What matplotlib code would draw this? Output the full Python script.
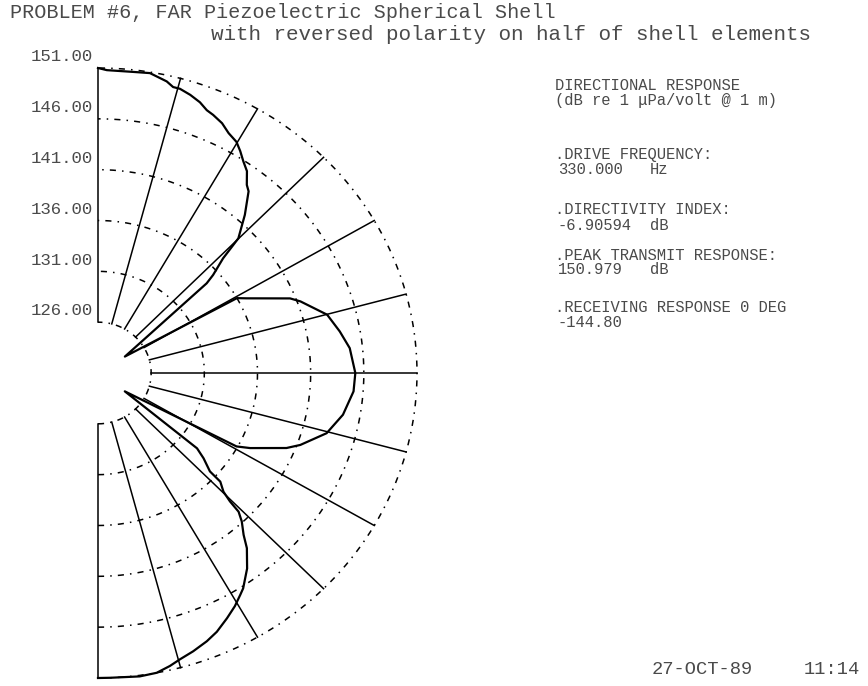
import numpy as np
import matplotlib
matplotlib.use('Agg')
import matplotlib.pyplot as plt

plt.rcParams['font.family'] = 'Liberation Mono'

W, H = 868, 686
TXT = '#4a4a4a'

# directional response: angle (deg, 0 = axis) and level (dB)
angles = [90, 88.4, 83.6, 80.6, 77.3, 75.9, 74.6, 72.4, 70.2, 68.4, 66.9, 64.6,
          62.5, 60.2, 58.5, 56.7, 54.8, 52.9, 51.6, 48.4, 45.1, 43.8, 41.7, 40.8,
          32.6, 29.4, 27.7, 22.1, 20.3, 14.9, 10.2, 5.9, 0,
          -4.3, -10.1, -15.4, -20.4, -22.6, -27.3, -29.0, -35.6,
          -38.5, -40.2, -42.6, -42.9, -44.7, -45.5, -45.9, -47.2, -49.3, -50.9,
          -53.9, -57.2, -58.5, -60.7, -63.3, -66.3, -68.8, -71.9, -74.7, -76.8,
          -79.4, -82.5, -87.8, -90]
levels = [151.0, 150.8, 150.8, 150.9, 150.4, 150.0, 150.0, 149.7, 149.3, 148.8, 148.6, 148.2,
          147.6, 147.2, 146.6, 145.9, 145.3, 144.2, 143.8, 141.8, 139.7, 137.3, 135.5, 134.5,
          124.0, 136.0, 136.8, 140.5, 141.3, 143.3, 144.1, 144.8, 145.2,
          145.1, 144.4, 143.3, 141.3, 140.2, 137.1, 135.9, 124.1,
          132.9, 134.0, 135.3, 136.7, 137.6, 138.7, 140.0, 140.9, 142.0, 143.2,
          144.8, 146.2, 146.6, 147.3, 148.0, 148.8, 149.3, 149.8, 150.2, 150.6,
          151.0, 151.1, 151.0, 151.0]

rings = [151, 146, 141, 136, 131, 126]
ring_labels = ['151.00', '146.00', '141.00', '136.00', '131.00', '126.00']
spokes = [90, 75, 60, 45, 30, 15, 0, -15, -30, -45, -60, -75, -90]

r_center = 121      # level at the pole
r_min, r_max = 126, 151

info_lines = [('DIRECTIONAL RESPONSE', 85), ('(dB re 1 μPa/volt @ 1 m)', 100),
              ('.DRIVE FREQUENCY:', 155), ('.DIRECTIVITY INDEX:', 210),
              ('.PEAK TRANSMIT RESPONSE:', 255), ('.RECEIVING RESPONSE 0 DEG', 307)]
values = [('330.000', 'Hz', 170), ('-6.90594', 'dB', 225), ('150.979', 'dB', 270), ('-144.80', '', 322)]


def xy(deg, lev):
    a = np.radians(np.asarray(deg, dtype=float))
    r = np.asarray(lev, dtype=float) - r_center
    return r * np.cos(a), r * np.sin(a)


fig = plt.figure(figsize=(W / 100, H / 100), dpi=100)
ax = fig.add_axes([98 / W, 1 - 678 / H, 319 / W, 610 / H])
ax.set_xlim(0, r_max - r_center)
ax.set_ylim(-(r_max - r_center), r_max - r_center)
ax.axis('off')

# dotted rings
t = np.linspace(-90, 90, 361)
for r in rings:
    x, y = xy(t, np.full_like(t, r))
    ax.plot(x, y, color='k', lw=1.1, ls=(0, (4, 4, 1, 4)), clip_on=False)

# spokes
for s in spokes:
    x, y = xy([s, s], [r_min, r_max])
    ax.plot(x, y, color='k', lw=1.1, clip_on=False)

# response curve
x, y = xy(angles, levels)
ax.plot(x, y, color='k', lw=1.6, clip_on=False)

# ring labels
for r, lab in zip(rings, ring_labels):
    ax.text(-0.45, r - r_center + 1.1, lab, ha='right', va='center',
            fontsize=12.5, color=TXT, clip_on=False)


def ftext(px, py, s, size=11.2):
    fig.text(px / W, 1 - py / H, s, fontsize=size, color=TXT, ha='left', va='center')


ftext(10, 13, 'PROBLEM #6, FAR Piezoelectric Spherical Shell', 14.5)
ftext(211, 34, 'with reversed polarity on half of shell elements', 15)

for s, py in info_lines:
    ftext(555, py, s)
for v, u, py in values:
    ftext(558, py, v)
    if u:
        ftext(650, py, u)

ftext(652, 670, '27-OCT-89', 13.5)
ftext(804, 670, '11:14', 13.5)

fig.savefig('out.png', dpi=100)
